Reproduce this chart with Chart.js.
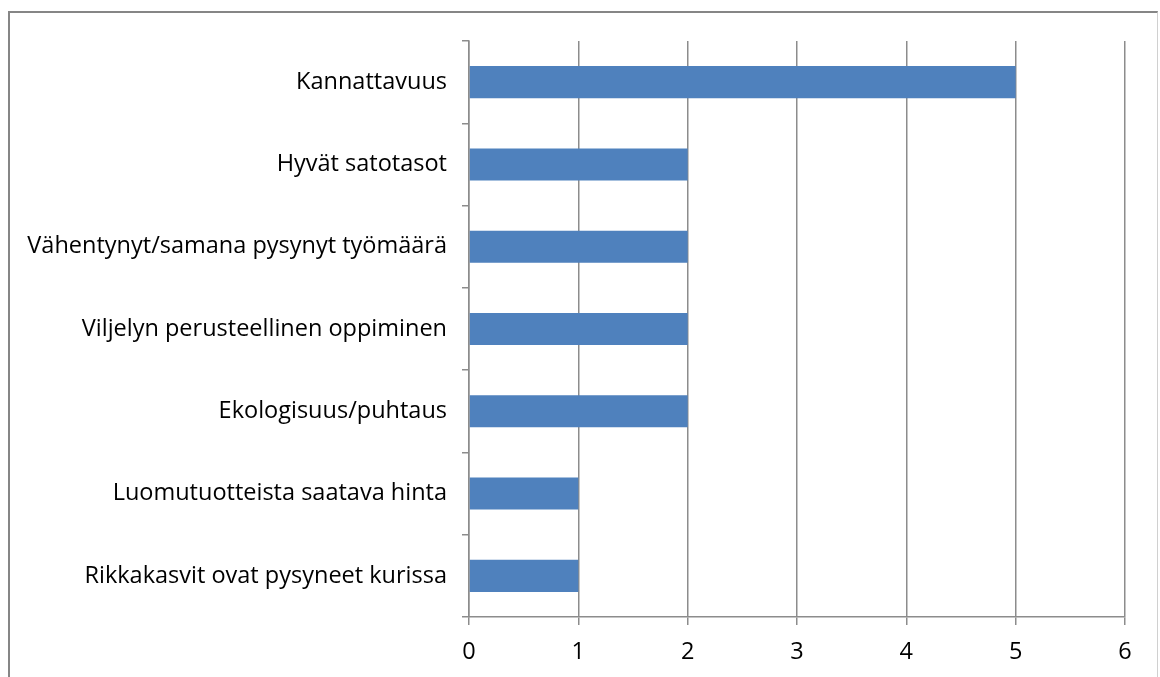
<!DOCTYPE html>
<html>
<head>
<meta charset="utf-8">
<script src="https://cdn.jsdelivr.net/npm/chart.js@4"></script>
<style>
  html, body { margin: 0; padding: 0; background: #fff; }
  #wrap { position: relative; width: 1160px; height: 677px; }
  #frame {
    position: absolute; left: 8px; top: 11px; width: 1150px; height: 680px;
    border-left: 2px solid #868686; border-top: 2px solid #868686;
    border-right: 1px solid #d0d0d0; box-sizing: border-box;
  }
  canvas { position: absolute; left: 0; top: 0; }
</style>
</head>
<body>
<div id="wrap">
  <div id="frame"></div>
  <canvas id="chart" width="1160" height="677"></canvas>
</div>
<script>
// categories top to bottom
const categories = [
  'Kannattavuus',
  'Hyvät satotasot',
  'Vähentynyt/samana pysynyt työmäärä',
  'Viljelyn perusteellinen oppiminen',
  'Ekologisuus/puhtaus',
  'Luomutuotteista saatava hinta',
  'Rikkakasvit ovat pysyneet kurissa'
];
const counts = [5, 2, 2, 2, 2, 1, 1];
const xTicks = [0, 1, 2, 3, 4, 5, 6];

const gridGray = '#8c8c8c';

const ctx = document.getElementById('chart').getContext('2d');
new Chart(ctx, {
  type: 'bar',
  data: {
    labels: categories,
    datasets: [{
      data: counts,
      backgroundColor: '#4f81bd',
      borderWidth: 0,
      barPercentage: 0.39,
      categoryPercentage: 1.0
    }]
  },
  options: {
    indexAxis: 'y',
    responsive: false,
    animation: false,
    layout: { padding: { top: 41, right: 35, left: 0, bottom: 0 } },
    plugins: { legend: { display: false }, tooltip: { enabled: false } },
    scales: {
      x: {
        min: 0,
        max: 6,
        afterBuildTicks: (scale) => { scale.ticks = xTicks.map(v => ({ value: v })); },
        afterFit: (scale) => { scale.height = 60; },
        grid: { color: gridGray, lineWidth: 1.5, tickLength: 8 },
        border: { color: gridGray, width: 1.5 },
        ticks: {
          color: '#000',
          padding: 13,
          font: { family: 'Open Sans', size: 23.5 }
        }
      },
      y: {
        afterFit: (scale) => { scale.width = 469; },
        grid: { drawOnChartArea: false, color: gridGray, lineWidth: 1.5, tickLength: 7, offset: true },
        border: { color: gridGray, width: 1.5 },
        ticks: {
          color: '#000',
          padding: 15,
          font: { family: 'Open Sans', size: 23.5 }
        }
      }
    }
  }
});
</script>
</body>
</html>
